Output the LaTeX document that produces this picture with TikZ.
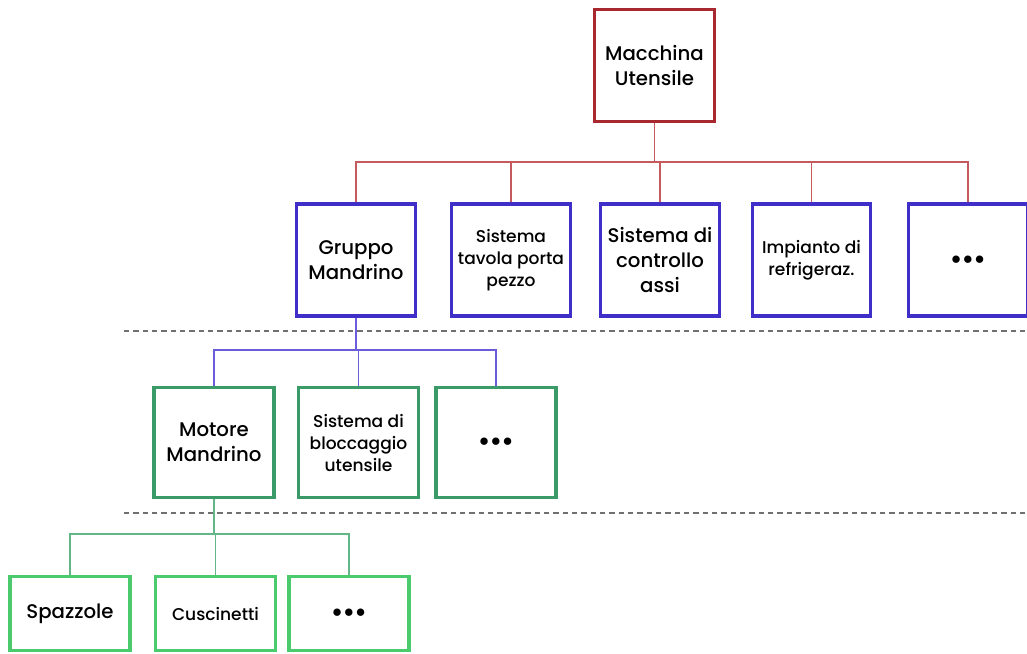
\documentclass[tikz,border=0pt]{standalone}
\usepackage{fontspec}
\setmainfont{Poppins Medium}
\definecolor{redbox}{HTML}{A82830}
\definecolor{redline}{HTML}{C45A5E}
\definecolor{bluebox}{HTML}{3F2FC8}
\definecolor{blueline}{HTML}{6A5CDA}
\definecolor{greenbox}{HTML}{3A9A68}
\definecolor{greenline}{HTML}{62B688}
\definecolor{lgreenbox}{HTML}{4CCB6E}
\definecolor{dashgray}{HTML}{707070}
\begin{document}
\begin{tikzpicture}[x=0.75pt,y=-0.75pt,
  box/.style={draw, line width=2.3pt, fill=white, align=center, inner sep=2pt,
    text=black, font=\fontsize{14.8}{18.5}\selectfont},
  topbox/.style={box, draw=redbox, minimum width=90pt, minimum height=84pt},
  midbox/.style={box, draw=bluebox, minimum width=89pt, minimum height=84pt},
  lowbox/.style={box, draw=greenbox, minimum width=90pt, minimum height=82pt},
  leafbox/.style={box, draw=lgreenbox, minimum width=90pt, minimum height=56pt},
  small/.style={font=\fontsize{12.8}{16.5}\selectfont},
  link/.style={line width=0.8pt},
  sep/.style={draw=dashgray, line width=1pt, dash pattern=on 4pt off 3pt},
  dots/.style={font=\fontsize{14}{14}\selectfont}
]
\newcommand{\ellip}{$\bullet\mkern-2mu\bullet\mkern-2mu\bullet$}
\useasboundingbox (0,0) rectangle (1027,653);

% top level
\node[topbox] (mu) at (654.5,65.5) {Macchina\\Utensile};

% second level
\node[midbox] (gm) at (356,260) {Gruppo\\Mandrino};
\node[midbox, small] (st) at (511,260) {Sistema\\tavola porta\\pezzo};
\node[midbox] (sc) at (660,260) {Sistema di\\controllo\\assi};
\node[midbox, small] (ir) at (811.5,260) {Impianto di\\refrigeraz.};
\node[midbox, dots] (d2) at (968,260) {\ellip};

% third level
\node[lowbox] (mm) at (214,442.5) {Motore\\Mandrino};
\node[lowbox, small] (sb) at (358.5,442.5) {Sistema di\\bloccaggio\\utensile};
\node[lowbox, dots] (d3) at (496,442.5) {\ellip};

% fourth level
\node[leafbox] (sp) at (70,613.5) {Spazzole};
\node[leafbox, small] (cu) at (215.5,613.5) {Cuscinetti};
\node[leafbox, dots] (d4) at (349,613.5) {\ellip};

% level separators
\draw[sep] (124,331) -- (1027,331);
\draw[sep] (124,513) -- (1027,513);

% connectors
\coordinate (b1) at (654.5,162);
\begin{scope}[on background layer/.try]
\draw[link, redline] (mu.south) -- (b1);
\foreach \n in {gm,st,sc,ir,d2}
  \draw[link, redline] (\n.north) |- (b1);

\coordinate (b2) at (356,350);
\draw[link, blueline] (gm.south) -- (b2);
\foreach \n in {mm,sb,d3}
  \draw[link, blueline] (\n.north) |- (b2);

\coordinate (b3) at (214,534);
\draw[link, greenline] (mm.south) -- (b3);
\foreach \n in {sp,cu,d4}
  \draw[link, greenline] (\n.north) |- (b3);
\end{scope}
\end{tikzpicture}
\end{document}
